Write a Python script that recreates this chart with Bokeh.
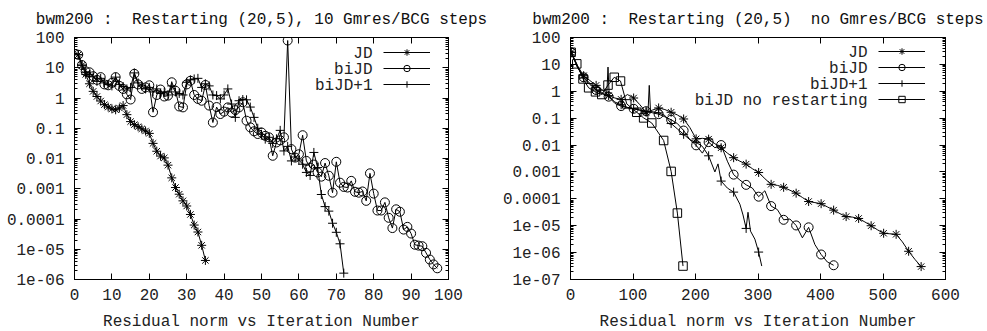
from bokeh.plotting import figure
from bokeh.models import (FixedTicker, LinearAxis, LogAxis, CustomJSTickFormatter,
                          Legend, LegendItem, Label, Range1d)
from bokeh.layouts import row
from bokeh.embed import file_html
from bokeh.resources import INLINE

FONT = "Liberation Mono"
NB = "\u00a0"  # keeps the double spaces of the original titles

# ---------------- text ----------------
left_title = "bwm200 :" + NB + " Restarting (20,5), 10 Gmres/BCG steps"
right_title = "bwm200 :" + NB + " Restarting (20,5)" + NB + " no Gmres/BCG steps"
x_label = "Residual norm vs Iteration Number"
left_series_names = ["JD", "biJD", "biJD+1"]
right_series_names = ["JD", "biJD", "biJD+1", "biJD no restarting"]

# ---------------- ticks ----------------
left_xticks = [0, 10, 20, 30, 40, 50, 60, 70, 80, 90, 100]
right_xticks = [0, 100, 200, 300, 400, 500, 600]
left_ytick_labels = ["1e-06", "1e-05", "0.0001", "0.001", "0.01", "0.1", "1", "10", "100"]
right_ytick_labels = ["1e-07", "1e-06", "1e-05", "0.0001", "0.001", "0.01", "0.1", "1", "10", "100"]
left_ytick_exps = [-6, -5, -4, -3, -2, -1, 0, 1, 2]
right_ytick_exps = [-7, -6, -5, -4, -3, -2, -1, 0, 1, 2]

# ---------------- left panel data (log10 of residual norm, one per iteration) ----------------
left_jd_log10 = [1.43, 1.08, 0.78, 0.47, 0.22, 0.05, -0.1, -0.22, -0.3, -0.36,
                 -0.39, -0.33, -0.25, -0.55, -0.78, -0.88, -0.95, -1.02, -1.09, -1.17,
                 -1.5, -1.76, -1.92, -1.98, -2.22, -2.64, -2.96, -3.18, -3.4, -3.57,
                 -3.85, -4.2, -4.43, -4.87, -5.37]
left_bijd_log10 = [1.43, 1.09, 0.88, 0.85, 0.72, 0.6, 0.69, 0.45, 0.42, 0.5,
                   0.69, 0.4, 0.3, 0.12, -0.05, 0.8, 0.45, 0.3, 0.35, 0.42,
                   -0.47, 0.1, 0.28, 0.05, 0.08, 0.52, 0.24, -0.28, -0.31, 0.45,
                   0.57, 0.1, -0.03, -0.09, 0.43, -0.25, -0.81, -0.3, -0.53, -0.45,
                   -0.31, -0.48, -0.4, -0.31, -0.14, -0.75, -0.97, -1.1, -1.19, -1.14,
                   -1.25, -1.3, -1.91, -1.47, -1.4, -1.3, 1.9, -1.69, -1.97, -1.86,
                   -1.23, -2.08, -2.3, -2.2, -2.46, -2.6, -2.15, -2.57, -3.13, -2.11,
                   -2.8, -2.94, -2.96, -2.74, -3.1, -3.13, -3.09, -3.4, -2.49, -3.16,
                   -3.72, -3.72, -3.45, -3.96, -4.3, -3.68, -3.76, -4.35, -4.26, -4.48,
                   -4.85, -4.88, -4.9, -5.12, -5.34, -5.5, -5.63]
left_bijd1_log10 = [1.43, 1.09, 0.85, 0.78, 0.7, 0.55, 0.65, 0.5, 0.45, 0.4,
                    0.69, 0.45, 0.38, 0.3, 0.35, 0.83, 0.5, 0.4, 0.3, 0.35,
                    0.2, 0.3, 0.15, 0.2, 0.1, 0.4, 0.2, 0.15, 0.1, 0.52,
                    0.6, 0.63, 0.65, 0.35, 0.47, 0.4, 0.1, 0.08, -0.03, 0.1,
                    0.3, -0.2, -0.64, -0.09, -0.05, -0.06, -0.3, -0.64, -1.0, -1.2,
                    -1.36, -1.3, -1.5, -1.35, -1.07, -1.75, -1.6, -2.08, -1.95, -2.05,
                    -2.19, -2.46, -2.56, -1.8, -2.3, -3.19, -3.59, -3.74, -4.14, -4.44,
                    -4.82, -5.79]

# ---------------- right panel data ----------------
right_jd_iter = list(range(1, 562, 10))
right_jd_log10 = [1.45, 0.95, 0.58, 0.4, 0.22, 0.05, -0.16, -0.25, -0.3, -0.12,
                  -0.25, -0.5, -0.78, -0.7, -0.62, -0.68, -0.78, -0.88, -1.03, -1.35,
                  -1.77, -1.75, -1.78, -1.95, -2.1, -2.3, -2.47, -2.6, -2.71, -2.88,
                  -3.02, -3.25, -3.46, -3.5, -3.57, -3.68, -3.79, -3.95, -4.1, -4.14,
                  -4.18, -4.3, -4.42, -4.55, -4.66, -4.68, -4.73, -4.86, -5.0, -5.15,
                  -5.28, -5.3, -5.32, -5.6, -5.95, -6.25, -6.52]
right_bijd_iter = list(range(1, 422, 10))
right_bijd_log10 = [1.45, 0.9, 0.52, 0.3, 0.05, -0.05, -0.2, -0.45, -0.55, -0.6,
                    -0.65, -0.7, -0.74, -0.8, -0.85, -0.95, -1.06, -1.2, -1.46, -1.8,
                    -2.01, -2.3, -1.89, -2.1, -2.0, -2.6, -3.1, -3.3, -3.48, -3.6,
                    -3.92, -3.7, -4.27, -4.4, -4.78, -4.75, -4.99, -5.45, -5.06, -5.7,
                    -6.07, -6.35, -6.47]
right_bijd1_iter = [1, 11, 21, 31, 41, 51, 58, 60, 62, 71, 81, 91, 101, 111, 121, 124, 126, 128,
                    141, 151, 161, 171, 181, 191, 201, 211, 221, 231, 236, 241, 251, 261, 271,
                    276, 281, 284, 288, 295, 301, 306]
right_bijd1_log10 = [1.45, 0.9, 0.5, 0.25, 0.05, -0.1, -0.15, 0.9, -0.2, -0.4, -0.5, -0.6, -0.65,
                     -0.7, -0.75, -0.78, 0.22, -0.75, -0.8, -0.9, -1.2, -1.4, -1.6, -1.8, -1.9,
                     -2.05, -2.4, -3.0, -2.7, -3.34, -3.6, -3.75, -4.2, -4.6, -5.1, -4.5, -5.2,
                     -5.5, -5.98, -6.5]
right_norestart_iter = [1, 10, 20, 29, 40, 50, 60, 70, 80, 90, 106, 117, 130, 149, 161, 171, 180]
right_norestart_log10 = [1.45, 1.02, 0.46, 0.13, -0.02, -0.12, 0.23, 0.52, 0.38, -0.47, -0.78,
                         -0.99, -1.18, -1.83, -2.98, -4.53, -6.5]

FRAME_H = 242


def to_norm(logs):
    return [10.0 ** v for v in logs]


def make_fig(title, xr, yexps, ylabels, xticks, bl, fw, br):
    yticks = [float("1e%d" % e) for e in yexps]
    minor = [m * float("1e%d" % e) for e in yexps[:-1] for m in range(2, 10)]
    p = figure(frame_width=fw, frame_height=FRAME_H, min_border_left=bl, min_border_right=br,
               min_border_top=37, min_border_bottom=52,
               x_range=Range1d(*xr), y_range=Range1d(yticks[0], yticks[-1]),
               y_axis_type="log", output_backend="svg", toolbar_location=None)
    p.title.text = title
    p.title.align = "center"
    p.title.vertical_align = "top"
    p.title.standoff = 14
    p.title.text_font = FONT
    p.title.text_font_size = "16px"
    p.title.text_font_style = "normal"
    p.title.text_color = "#111111"
    p.xgrid.visible = False
    p.ygrid.visible = False
    p.outline_line_color = "black"
    p.outline_line_alpha = 1
    p.background_fill_color = "white"
    p.border_fill_color = "white"

    fmt = CustomJSTickFormatter(args=dict(tvals=yticks, tlabels=ylabels), code="""
        let best = 0, d = Infinity;
        for (let i = 0; i < tvals.length; i++) {
          const di = Math.abs(Math.log10(tick) - Math.log10(tvals[i]));
          if (di < d) { d = di; best = i; }
        }
        return tlabels[best];
    """)

    def style(ax, show):
        ax.axis_line_color = "black"
        ax.major_tick_line_color = "black"
        ax.minor_tick_line_color = "black"
        ax.major_tick_in = 6
        ax.major_tick_out = 0
        ax.minor_tick_in = 3
        ax.minor_tick_out = 0
        if show:
            ax.major_label_text_font = FONT
            ax.major_label_text_font_size = "16px"
            ax.major_label_text_color = "#222222"
        else:
            ax.major_label_text_font_size = "1px"
            ax.major_label_text_color = None
            ax.major_label_standoff = 0

    xa = p.xaxis[0]
    xa.ticker = FixedTicker(ticks=xticks)
    style(xa, True)
    xa.minor_tick_line_color = None
    xa.major_label_standoff = 9
    xa.axis_label = x_label
    xa.axis_label_text_font = FONT
    xa.axis_label_text_font_size = "16px"
    xa.axis_label_text_font_style = "normal"
    xa.axis_label_text_color = "#222222"
    xa.axis_label_standoff = 10

    ya = p.yaxis[0]
    ya.ticker = FixedTicker(ticks=yticks, minor_ticks=minor)
    ya.formatter = fmt
    style(ya, True)
    ya.major_label_standoff = 10

    top = LinearAxis(ticker=FixedTicker(ticks=xticks))
    style(top, False)
    top.minor_tick_line_color = None
    p.add_layout(top, "above")
    right = LogAxis(ticker=FixedTicker(ticks=yticks, minor_ticks=minor))
    style(right, False)
    p.add_layout(right, "right")
    return p


def add_series(p, xs, ys, marker, size, step):
    lr = p.line(xs, ys, line_color="black", line_width=1)
    mx = xs[::step] if step > 1 else xs
    my = ys[::step] if step > 1 else ys
    sr = p.scatter(mx, my, marker=marker, size=size, line_color="black",
                   fill_color=None, line_width=1)
    return [lr, sr]


def add_key(p, names, groups, loc, text_right):
    items = [LegendItem(label=NB, renderers=g) for g in groups]
    n = len(names)
    leg = Legend(items=items, location=loc, glyph_width=47, glyph_height=16,
                 label_height=16, label_width=0, label_standoff=0, padding=0,
                 margin=0, spacing=0, border_line_color=None,
                 background_fill_alpha=0, label_text_font_size="2px")
    p.add_layout(leg)
    top = loc[1] + 16 * n
    for i, name in enumerate(names):
        p.add_layout(Label(x=text_right, y=top - 9 - 16 * i, x_units="screen",
                           y_units="screen", text=name, text_align="right",
                           text_baseline="middle", text_font=FONT,
                           text_font_size="16px", text_color="#222222"))


# ---------------- left figure ----------------
p1 = make_fig(left_title, (0, 100), left_ytick_exps, left_ytick_labels, left_xticks, 74, 374, 45)
g1 = add_series(p1, list(range(1, len(left_jd_log10) + 1)), to_norm(left_jd_log10), "asterisk", 9, 1)
g2 = add_series(p1, list(range(1, len(left_bijd_log10) + 1)), to_norm(left_bijd_log10), "circle", 9, 1)
g3 = add_series(p1, list(range(1, len(left_bijd1_log10) + 1)), to_norm(left_bijd1_log10), "cross", 9, 1)
add_key(p1, left_series_names, [g1, g2, g3], (309, 187), 298)

# ---------------- right figure ----------------
p2 = make_fig(right_title, (0, 600), right_ytick_exps, right_ytick_labels, right_xticks, 77, 375, 42)
h1 = add_series(p2, right_jd_iter, to_norm(right_jd_log10), "asterisk", 9, 2)
h2 = add_series(p2, right_bijd_iter, to_norm(right_bijd_log10), "circle", 9, 2)
bx = right_bijd1_iter
by = to_norm(right_bijd1_log10)
h3l = p2.line(bx, by, line_color="black", line_width=1)
h3s = p2.scatter([x for x in bx if (x - 1) % 20 == 0],
                 [y for x, y in zip(bx, by) if (x - 1) % 20 == 0],
                 marker="cross", size=9, line_color="black", line_width=1)
h4 = add_series(p2, right_norestart_iter, to_norm(right_norestart_log10), "square", 8.5, 1)
add_key(p2, right_series_names, [h1, h2, [h3l, h3s], h4], (308, 172), 297)

layout = row(p1, p2)
open("out.html", "w").write(file_html(layout, INLINE))
